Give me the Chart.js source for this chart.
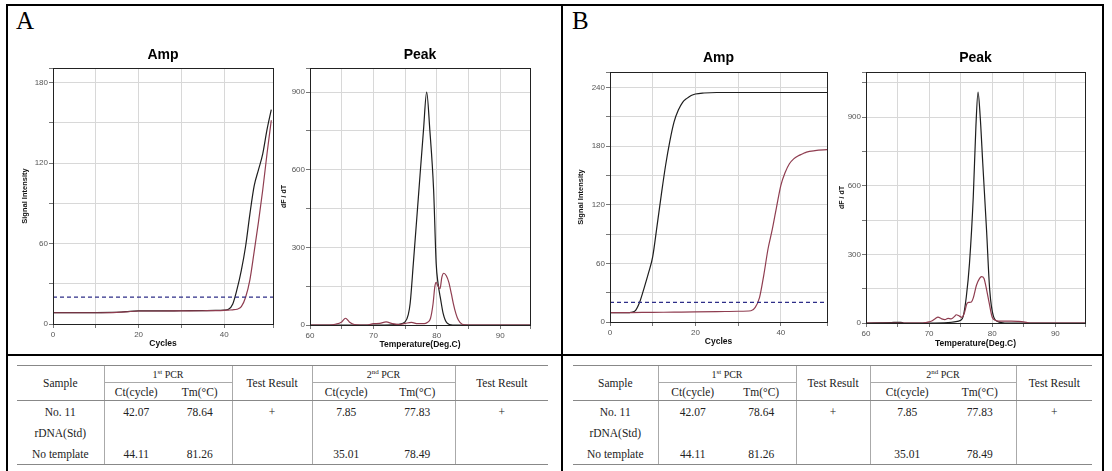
<!DOCTYPE html>
<html><head><meta charset="utf-8">
<script src="https://cdn.jsdelivr.net/npm/chart.js@4/dist/chart.umd.min.js"></script>
<style>
html,body{margin:0;padding:0;background:#fff;}
body{width:1112px;height:471px;overflow:hidden;position:relative;}
.ln{position:absolute;background:#000;}
.lbl{position:absolute;font-family:'Liberation Serif','Times New Roman',serif;font-size:25px;line-height:1;color:#000;}
table.t{position:absolute;border-collapse:collapse;table-layout:fixed;}
table.t th,table.t td{padding:0;text-align:center;font-weight:normal;white-space:nowrap;overflow:visible;
  font-family:'Liberation Serif','Times New Roman',serif;font-size:11.5px;color:#222;}
table.t tr.h1 th{height:16px;border-top:1px solid #888;}
table.t tr.h2 th{height:17px;}
table.t th.sub{font-size:10px;border-bottom:1px solid #aaa;}
table.t th.hb, table.t tr.h2 th{border-bottom:1px solid #888;}
table.t td{height:21px;}
table.t tr.last td{border-bottom:1px solid #888;}
table.t .vl{border-left:1px solid #aaa;}
table.t sup{font-size:7px;vertical-align:top;position:relative;top:-1px;}
</style>
</head><body>
<div class="ln" style="left:6px;top:4px;width:1098px;height:2px"></div>
<div class="ln" style="left:6px;top:4px;width:2px;height:467px"></div>
<div class="ln" style="left:561px;top:4px;width:2px;height:467px"></div>
<div class="ln" style="left:1102px;top:4px;width:2px;height:467px"></div>
<div class="ln" style="left:6px;top:354px;width:1098px;height:2px"></div>
<div class="lbl" style="left:16px;top:8px">A</div>
<div class="lbl" style="left:572px;top:8px">B</div>
<div id="tabA"></div><div id="tabB"></div>
<script>
// ---------------- DATA ----------------
// Panel A, Amp (x = cycle, y = signal intensity)
const ampA_sampleX = [0,5,10,14,17,20,25,30,35,38,40,41,42,43,44,45,46,47,48,49,50,51];
const ampA_sampleY = [8.5,8.5,8.5,8.6,9.2,9.8,9.8,9.9,10,10.1,10.4,11,15,26,40,58,82,103,115,127,145,160];
const ampA_ntcX    = [0,5,10,14,17,20,25,30,35,38,40,41,42,43,44,45,46,47,48,49,50,51];
const ampA_ntcY    = [8.4,8.4,8.4,8.5,9.1,9.7,9.7,9.8,9.9,10,10.2,10.4,10.6,11,13,20,33,54,76,100,127,152];
const ampA_threshold = 20;
// Panel A, Peak (x = temperature, y = dF/dT)
const peakA_sampleX = [60,65,70,73,74,75,75.5,75.8,76.3,77.1,77.9,78.4,78.9,79.5,79.9,80.2,80.6,81,81.6,82.5,85,95];
const peakA_sampleY = [0,0,0,1,3,12,40,84,238,496,753,900,753,521,238,160,100,45,8,0,0,0];
const peakA_ntcX = [60,63,64,65,65.6,66.2,67,69,70,71,72,73,74,75,76,77,78,78.5,79,79.4,79.7,79.9,80.2,80.5,80.8,81.1,81.5,81.9,82.3,82.6,83,83.4,84,85,95];
const peakA_ntcY = [0,0,3,12,26,12,2,0,5,6,12,5,2,6,10,5,5,10,25,80,150,165,150,140,185,200,190,165,120,84,45,19,3,0,0];
// Panel B, Amp
const ampB_sampleX = [0,2,4,5,6,7,8,9,10,11,12,13,14,15,16,17,18,19,20,22,25,30,40,51];
const ampB_sampleY = [9.5,9.5,9.5,10,12,21,35,50,67,98,130,160,185,205,217,225,229,232,233.5,234.5,235,235,235,235];
const ampB_ntcX    = [0,5,10,15,20,25,30,33,34,35,36,37,38,39,40,41,42,43,44,45,46,48,51];
const ampB_ntcY    = [9.5,9.7,9.9,10.1,10.3,10.6,11,11.5,15,25,48,75,95,118,140,153,162,167,170,172,174,175.5,176.5];
const ampB_threshold = 20;
// Panel B, Peak
const peakB_sampleX = [60,64,65,65.5,66,70,73,74,75,75.4,75.9,76.4,77,77.4,77.75,78.1,78.5,79.1,79.6,80.2,81,82,95];
const peakB_sampleY = [0,2,3,3,0,0,2,5,12,29,116,262,553,850,1010,900,699,407,145,29,5,0,0];
const peakB_ntcX = [60,69,69.5,70,70.5,71,71.4,72,72.5,73,73.5,74,74.3,74.8,75.2,75.6,76,76.3,76.7,77,77.5,78,78.3,78.7,79,79.5,80,80.5,81,82,83,84,85,86,95];
const peakB_ntcY = [0,0,2,5,10,20,26,18,15,20,18,28,36,30,25,45,85,90,92,110,165,195,203,195,160,90,25,12,8,8,8,7,5,0,0];
// Tick labels
const ampXLabels  = [0,20,40];
const ampAYLabels = [0,60,120,180];
const ampBYLabels = [0,60,120,180,240];
const peakXLabels = [60,70,80,90];
const peakYLabels = [0,300,600,900];
// Table
const tblHeaderGroups = ['1st PCR','2nd PCR'];
const tblSamples = ['No. 11','rDNA(Std)','No template'];
const tblCt1  = ['42.07','','44.11'];
const tblTm1  = ['78.64','','81.26'];
const tblRes1 = ['+','',''];
const tblCt2  = ['7.85','','35.01'];
const tblTm2  = ['77.83','','78.49'];
const tblRes2 = ['+','',''];

// ---------------- CHARTS ----------------
const FONT = "'Liberation Sans', Arial, Helvetica, sans-serif";
Chart.defaults.font.family = FONT;
const BLACK = '#1e1e1e', RED = '#8f3d50', NAVY = '#2e2e88';

const framePlugin = {
  id: 'frame',
  afterDraw(chart) {
    const {ctx, chartArea: a} = chart;
    const al = p => Math.round(p - 0.5) + 0.5;
    ctx.save();
    ctx.strokeStyle = '#222'; ctx.lineWidth = 1;
    const l = al(a.left), t = al(a.top), r = al(a.right), b = al(a.bottom);
    ctx.strokeRect(l, t, r - l, b - t);
    ctx.restore();
  }
};

function pts(xs, ys) { return xs.map((x, i) => ({x, y: ys[i]})); }
function has(list, v) { return list.some(t => Math.abs(t - v) < 1e-6); }

function buildChart(o) {
  const cv = document.createElement('canvas');
  const W = o.canvas.r - o.canvas.l, H = o.canvas.b - o.canvas.t;
  cv.width = W; cv.height = H;
  cv.style.cssText = `position:absolute;left:${o.canvas.l}px;top:${o.canvas.t}px;width:${W}px;height:${H}px;`;
  document.body.appendChild(cv);
  const yW = o.plot.l - o.canvas.l, xH = o.canvas.b - o.plot.b;
  const tLH = 14 * 1.2;
  const tTop = o.titleY - o.canvas.t - tLH / 2;
  const tBot = (o.plot.t - o.canvas.t) - tTop - tLH;
  const yTitleLH = o.yTitleSize * 1.2;
  const xTitleLH = 8.5 * 1.2;
  const datasets = o.series.map(s => ({
    label: s.label, data: pts(s.x, s.y), borderColor: s.color, borderWidth: 1.2,
    pointRadius: 0, fill: false, cubicInterpolationMode: 'monotone', borderDash: s.dash || []
  }));
  new Chart(cv, {
    type: 'line',
    data: {datasets},
    options: {
      responsive: false, animation: false, devicePixelRatio: 1,
      layout: {padding: {left: 0, right: o.canvas.r - o.plot.r, top: 0, bottom: 0}},
      plugins: {
        legend: {display: false}, tooltip: {enabled: false},
        title: {display: true, text: o.title, fullSize: false, color: '#000',
          font: {family: FONT, size: 14, weight: 'bold', lineHeight: 1.2},
          padding: {top: tTop, bottom: tBot}}
      },
      scales: {
        x: {
          type: 'linear', min: o.xMin, max: o.xMax,
          afterFit: s => { s.height = xH; },
          ticks: {stepSize: o.xStep, autoSkip: false, maxRotation: 0, padding: 2, color: '#555',
            font: {family: FONT, size: 8}, callback: v => has(o.xLabels, v) ? String(v) : ''},
          grid: {color: '#d8d8d8', lineWidth: 1, drawTicks: true, tickLength: 4, tickColor: '#777'},
          border: {display: false},
          title: {display: true, text: o.xTitle, color: '#111',
            font: {family: FONT, size: 8.5, weight: 'bold', lineHeight: 1.2},
            padding: {top: 0, bottom: (o.canvas.b - o.xTitleY) - xTitleLH / 2}}
        },
        y: {
          type: 'linear', min: 0, max: o.yMax,
          afterFit: s => { s.width = yW; },
          ticks: {stepSize: o.yStep, autoSkip: false, padding: 1, color: '#555',
            font: {family: FONT, size: 8}, callback: v => has(o.yLabels, v) ? String(v) : ''},
          grid: {color: '#d8d8d8', lineWidth: 1, drawTicks: true, tickLength: 4, tickColor: '#777'},
          border: {display: false},
          title: {display: true, text: o.yTitle, color: '#111',
            font: {family: FONT, size: o.yTitleSize, weight: 'bold', lineHeight: 1.2},
            padding: {top: (o.yTitleX - o.canvas.l) - yTitleLH / 2, bottom: 0}}
        }
      }
    },
    plugins: [framePlugin]
  });
}

function thresholdLine(x0, x1, v) { return {label: 'Threshold', x: [x0, x1], y: [v, v], color: NAVY, dash: [4, 3]}; }

buildChart({
  canvas: {l: 13, t: 40, r: 280, b: 352}, plot: {l: 53, t: 68, r: 273, b: 324},
  titleY: 55, yTitleX: 25, xTitleY: 344, title: 'Amp',
  xTitle: 'Cycles', yTitle: 'Signal Intensity', yTitleSize: 7.5,
  xMin: 0, xMax: 51.4, xStep: 10, xLabels: ampXLabels,
  yMax: 191, yStep: 30, yLabels: ampAYLabels,
  series: [
    thresholdLine(0, 51.4, ampA_threshold),
    {label: 'No template', x: ampA_ntcX, y: ampA_ntcY, color: RED},
    {label: 'No. 11', x: ampA_sampleX, y: ampA_sampleY, color: BLACK}
  ]
});
buildChart({
  canvas: {l: 270, t: 40, r: 537, b: 352}, plot: {l: 310, t: 68, r: 530, b: 325},
  titleY: 55, yTitleX: 284, xTitleY: 345, title: 'Peak',
  xTitle: 'Temperature(Deg.C)', yTitle: 'dF / dT', yTitleSize: 7,
  xMin: 60, xMax: 94.7, xStep: 5, xLabels: peakXLabels,
  yMax: 993, yStep: 150, yLabels: peakYLabels,
  series: [
    {label: 'No template', x: peakA_ntcX, y: peakA_ntcY, color: RED},
    {label: 'No. 11', x: peakA_sampleX, y: peakA_sampleY, color: BLACK}
  ]
});
buildChart({
  canvas: {l: 570, t: 43, r: 834, b: 352}, plot: {l: 610, t: 72, r: 827, b: 322},
  titleY: 58.5, yTitleX: 581, xTitleY: 341.7, title: 'Amp',
  xTitle: 'Cycles', yTitle: 'Signal Intensity', yTitleSize: 7.5,
  xMin: 0, xMax: 50.8, xStep: 10, xLabels: ampXLabels,
  yMax: 256, yStep: 30, yLabels: ampBYLabels,
  series: [
    thresholdLine(0, 50.8, ampB_threshold),
    {label: 'No template', x: ampB_ntcX, y: ampB_ntcY, color: RED},
    {label: 'No. 11', x: ampB_sampleX, y: ampB_sampleY, color: BLACK}
  ]
});
buildChart({
  canvas: {l: 826, t: 43, r: 1092, b: 352}, plot: {l: 866, t: 72, r: 1085, b: 323},
  titleY: 57.7, yTitleX: 841.7, xTitleY: 343.3, title: 'Peak',
  xTitle: 'Temperature(Deg.C)', yTitle: 'dF / dT', yTitleSize: 7,
  xMin: 60, xMax: 94.7, xStep: 5, xLabels: peakXLabels,
  yMax: 1098, yStep: 150, yLabels: peakYLabels,
  series: [
    {label: 'No template', x: peakB_ntcX, y: peakB_ntcY, color: RED},
    {label: 'No. 11', x: peakB_sampleX, y: peakB_sampleY, color: BLACK}
  ]
});

// ---------------- TABLES ----------------
function groupHead(txt) {
  const m = txt.match(/^(\d)(st|nd|rd|th)\s(.*)$/);
  return m ? `${m[1]}<sup>${m[2]}</sup> ${m[3]}` : txt;
}
function buildTable(id, left, top, widths) {
  const total = widths.reduce((a, b) => a + b, 0);
  let h = `<table class="t" style="left:${left}px;top:${top}px;width:${total}px"><colgroup>`;
  widths.forEach(w => h += `<col style="width:${w}px">`);
  h += `</colgroup>`;
  h += `<tr class="h1"><th rowspan="2" class="hb">Sample</th><th colspan="2" class="sub vl">${groupHead(tblHeaderGroups[0])}</th>` +
       `<th rowspan="2" class="hb vl">Test Result</th><th colspan="2" class="sub vl">${groupHead(tblHeaderGroups[1])}</th>` +
       `<th rowspan="2" class="hb vl">Test Result</th></tr>`;
  h += `<tr class="h2"><th class="vl">Ct(cycle)</th><th>Tm(°C)</th><th class="vl">Ct(cycle)</th><th>Tm(°C)</th></tr>`;
  tblSamples.forEach((s, i) => {
    const cls = i === tblSamples.length - 1 ? ' class="last"' : '';
    h += `<tr${cls}><td>${s}</td><td class="vl">${tblCt1[i]}</td><td>${tblTm1[i]}</td><td class="vl">${tblRes1[i]}</td>` +
         `<td class="vl">${tblCt2[i]}</td><td>${tblTm2[i]}</td><td class="vl">${tblRes2[i]}</td></tr>`;
  });
  h += `</table>`;
  document.getElementById(id).innerHTML = h;
}
buildTable('tabA', 17, 365, [87, 64, 64, 80, 68, 75, 93]);
buildTable('tabB', 573, 365, [85, 69, 69, 74, 74, 72, 76]);
</script>
</body></html>
